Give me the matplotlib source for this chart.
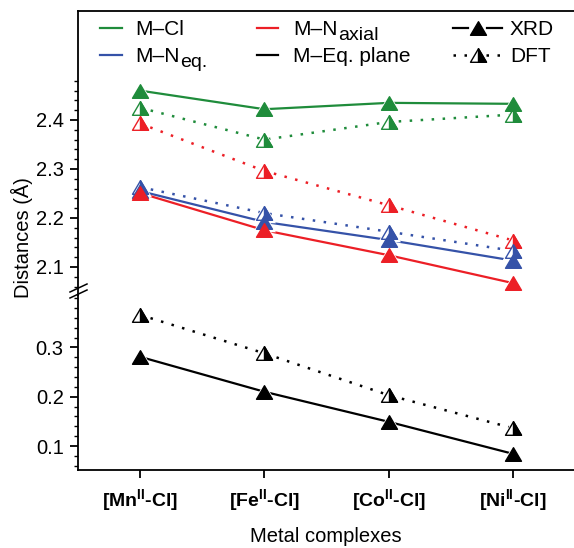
import numpy as np
import matplotlib
matplotlib.use("Agg")
import matplotlib.pyplot as plt
from matplotlib.path import Path
from matplotlib.lines import Line2D
from matplotlib.ticker import FixedLocator

plt.rcParams['font.family'] = ['Liberation Sans', 'DejaVu Sans']
plt.rcParams['mathtext.fontset'] = 'custom'
plt.rcParams['mathtext.rm'] = 'Liberation Sans'
plt.rcParams['mathtext.it'] = 'Liberation Sans:italic'
plt.rcParams['mathtext.bf'] = 'Liberation Sans:bold'

# ---- data -------------------------------------------------------------
complexes = [r"[Mn$^{\mathbf{II}}$-Cl]", r"[Fe$^{\mathbf{II}}$-Cl]",
             r"[Co$^{\mathbf{II}}$-Cl]", r"[Ni$^{\mathbf{II}}$-Cl]"]

m_cl_xrd = [2.460, 2.422, 2.435, 2.433]
m_cl_dft = [2.425, 2.360, 2.396, 2.411]
m_neq_xrd = [2.255, 2.192, 2.155, 2.113]
m_neq_dft = [2.263, 2.210, 2.172, 2.133]
m_nax_xrd = [2.251, 2.175, 2.124, 2.067]
m_nax_dft = [2.393, 2.296, 2.226, 2.154]
m_eqp_xrd = [0.281, 0.210, 0.149, 0.084]
m_eqp_dft = [0.366, 0.288, 0.203, 0.136]

upper_major = [2.1, 2.2, 2.3, 2.4]
upper_minor = [2.06, 2.08, 2.12, 2.14, 2.16, 2.18, 2.22, 2.24, 2.26, 2.28,
               2.32, 2.34, 2.36, 2.38, 2.42, 2.44, 2.46, 2.48]
lower_major = [0.1, 0.2, 0.3]
lower_minor = [0.06, 0.08, 0.12, 0.14, 0.16, 0.18, 0.22, 0.24, 0.26, 0.28,
               0.32, 0.34, 0.36, 0.38, 0.40]

GREEN = '#1f8c3b'
BLUE = '#3552a8'
RED = '#ec1f26'
BLACK = '#000000'

# ---- figure -----------------------------------------------------------
W, H = 574, 548
fig = plt.figure(figsize=(W / 100, H / 100), dpi=100)


def fx(px):
    return px / W


def fy(py):
    return 1 - py / H


left, right = 78, 574
top, brk, bottom = 11, 295, 470
ax_t = fig.add_axes([fx(left), fy(brk), fx(right - left), (brk - top) / H])
ax_b = fig.add_axes([fx(left), fy(bottom), fx(right - left), (bottom - brk) / H],
                    sharex=ax_t)
for a in (ax_t, ax_b):
    a.patch.set_alpha(0)

# triangle markers (full and right half)
TRI = Path([(-1, -0.85), (1, -0.85), (0, 0.85), (-1, -0.85)],
           [Path.MOVETO, Path.LINETO, Path.LINETO, Path.CLOSEPOLY])
HALF = Path([(0, -0.85), (1, -0.85), (0, 0.85), (0, -0.85)],
            [Path.MOVETO, Path.LINETO, Path.LINETO, Path.CLOSEPOLY])
MS = 11.5
LW = 1.6
DOT = (0, (1, 3.4))
x = np.arange(len(complexes))


def series(ax, vals, color, dft):
    ax.plot(x, vals, color=color, lw=LW if not dft else 1.8,
            ls=DOT if dft else '-', zorder=2, clip_on=False)
    ax.plot(x, vals, ls='none', marker=TRI, ms=MS + 5, mfc='white',
            mec='none', zorder=3, clip_on=False)
    if dft:
        ax.plot(x, vals, ls='none', marker=TRI, ms=MS, mfc='white',
                mec=color, mew=1.0, zorder=4, clip_on=False)
        ax.plot(x, vals, ls='none', marker=HALF, ms=MS, mfc=color,
                mec=color, mew=1.0, zorder=5, clip_on=False)
    else:
        ax.plot(x, vals, ls='none', marker=TRI, ms=MS, mfc=color,
                mec=color, mew=1.0, zorder=5, clip_on=False)


series(ax_t, m_cl_dft, GREEN, True)
series(ax_t, m_cl_xrd, GREEN, False)
series(ax_t, m_nax_dft, RED, True)
series(ax_t, m_neq_dft, BLUE, True)
series(ax_t, m_neq_xrd, BLUE, False)
series(ax_t, m_nax_xrd, RED, False)
series(ax_b, m_eqp_dft, BLACK, True)
series(ax_b, m_eqp_xrd, BLACK, False)

# ---- axes -------------------------------------------------------------
ax_t.set_xlim(-0.498, 3.488)
ax_t.set_ylim(2.4 - (brk - 120) / 490, 2.4 + (120 - top) / 490)
ax_b.set_ylim(0.1 - (bottom - 446) / 493, 0.1 + (446 - brk) / 493)

SW = 1.3
ax_t.spines['bottom'].set_visible(False)
ax_t.spines['right'].set_visible(False)
ax_b.spines['top'].set_visible(False)
ax_b.spines['right'].set_visible(False)
for a in (ax_t, ax_b):
    for s in a.spines.values():
        s.set_linewidth(SW)

ax_t.yaxis.set_major_locator(FixedLocator(upper_major))
ax_t.yaxis.set_minor_locator(FixedLocator(upper_minor))
ax_b.yaxis.set_major_locator(FixedLocator(lower_major))
ax_b.yaxis.set_minor_locator(FixedLocator(lower_minor))
ax_t.set_yticklabels([f"{v:.1f}" for v in upper_major])
ax_b.set_yticklabels([f"{v:.1f}" for v in lower_major])

for a in (ax_t, ax_b):
    a.tick_params(axis='y', which='major', direction='out', length=5.8,
                  width=SW, pad=4.5, labelsize=14.5)
    a.tick_params(axis='y', which='minor', direction='out', length=3,
                  width=1.0)
ax_t.tick_params(axis='x', which='both', bottom=False, labelbottom=False)
ax_b.set_xticks(x)
ax_b.set_xticklabels(complexes, fontweight='bold', fontsize=14)
ax_b.tick_params(axis='x', which='major', direction='out', length=6,
                 width=SW, pad=6)

# axis break marks on the left spine
for dy in (0, 6):
    fig.add_artist(Line2D([fx(70), fx(87)], [fy(292 + dy), fy(284 + dy)],
                          color='black', lw=1.1))

fig.text(fx(22), fy(238), "Distances (Å)", rotation=90, ha='center',
         va='center', fontsize=14.5)
fig.text(fx(326), fy(537), "Metal complexes", ha='center', va='center',
         fontsize=14.5)

# ---- legend -----------------------------------------------------------
FS = 15
SUB_FS = 14
renderer = fig.canvas.get_renderer()


def leg_line(x0, x1, y, color):
    fig.add_artist(Line2D([fx(x0), fx(x1)], [fy(y), fy(y)], color=color,
                          lw=LW))


def leg_text(xp, ybase, s, sub=None):
    t = fig.text(fx(xp), fy(ybase), s, ha='left', va='baseline', fontsize=FS)
    if sub:
        x1 = t.get_window_extent(renderer).x1
        fig.text(x1 / W + fx(0.5), fy(ybase + 5), sub, ha='left',
                 va='baseline', fontsize=SUB_FS)


leg_line(100, 122, 28, GREEN)
leg_text(135, 35, "M–Cl")
leg_line(100, 122, 55, BLUE)
leg_text(135, 62, "M–N", "eq.")
leg_line(257, 278, 28, RED)
leg_text(293, 35, "M–N", "axial")
leg_line(257, 278, 55, BLACK)
leg_text(293, 62, "M–Eq. plane")

# XRD / DFT keys
fig.add_artist(Line2D([fx(453), fx(468)], [fy(28)] * 2, color=BLACK, lw=LW))
fig.add_artist(Line2D([fx(487), fx(502)], [fy(28)] * 2, color=BLACK, lw=LW))
fig.add_artist(Line2D([fx(477.5)], [fy(28)], ls='none', marker=TRI, ms=MS,
                      mfc=BLACK, mec=BLACK, mew=1.0))
leg_text(510, 35, "XRD")
fig.add_artist(Line2D([fx(453), fx(502)], [fy(55)] * 2, color=BLACK, lw=1.8,
                      ls=DOT))
fig.add_artist(Line2D([fx(477.5)], [fy(55)], ls='none', marker=TRI,
                      ms=MS + 5, mfc='white', mec='none'))
fig.add_artist(Line2D([fx(477.5)], [fy(55)], ls='none', marker=TRI, ms=MS,
                      mfc='white', mec=BLACK, mew=1.0))
fig.add_artist(Line2D([fx(477.5)], [fy(55)], ls='none', marker=HALF, ms=MS,
                      mfc=BLACK, mec=BLACK, mew=1.0))
leg_text(510, 62, "DFT")

fig.savefig("out.png", dpi=100)
